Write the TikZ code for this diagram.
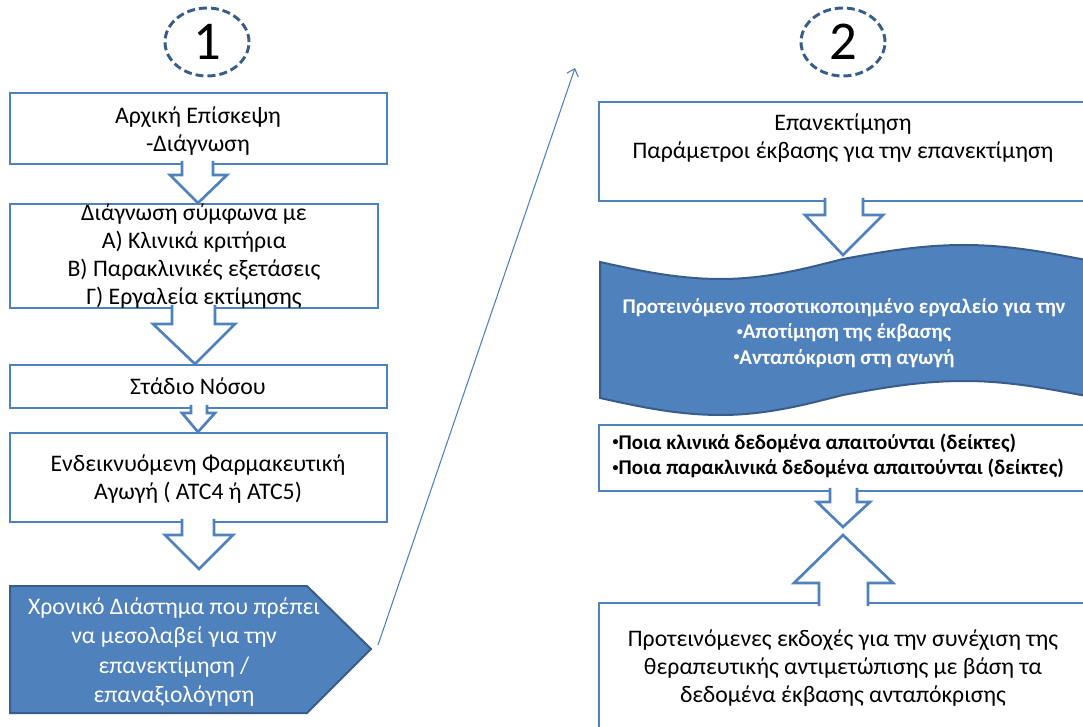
\documentclass[tikz,border=0pt]{standalone}
\usepackage{fontspec}
\setmainfont{Carlito}
\usepackage{tikz}
\usetikzlibrary{shapes.geometric,arrows.meta}

\definecolor{boxblue}{HTML}{4F81BD}
\definecolor{darkblue}{HTML}{385D8A}

\newcommand{\smallbullet}{\raisebox{0.18em}{\fontsize{9}{9}\selectfont•}}

\tikzset{
  box/.style={draw=boxblue, line width=2pt},
  blockarrow/.style={draw=boxblue, fill=white, line width=2pt, line join=miter},
  banner/.style={draw=darkblue, fill=boxblue, line width=1.5pt},
  label/.style={align=center, font=\fontsize{17.8}{21}\selectfont},
  whitelabel/.style={align=center, text=white, font=\fontsize{17.8}{21.9}\selectfont},
  boldlabel/.style={align=left, font=\fontsize{15.7}{19.2}\selectfont\bfseries},
  numcircle/.style={ellipse, draw=darkblue, dash pattern=on 6pt off 3pt, line width=2.2pt,
    minimum width=63pt, minimum height=51pt, inner sep=0pt, font=\fontsize{41}{41}\selectfont}
}

\begin{document}
\begin{tikzpicture}[x=0.75pt,y=-0.75pt]
\useasboundingbox (0,0) rectangle (1083,727);
\clip (0,0) rectangle (1083,727);

\draw[box] (10,93) rectangle (387,164);
\draw[box] (10,204) rectangle (378,308);
\draw[box] (10,365) rectangle (387,408);
\draw[box] (10,433) rectangle (387,522);

\draw[box] (599,102) rectangle (1092,201);
\draw[box] (599,425) rectangle (1092,491);
\draw[box] (599,603) rectangle (1092,740);

\filldraw[banner] (10,586) -- (307,586) -- (371,649) -- (307,713) -- (10,713) -- cycle;
\filldraw[banner] (600,262) sin (721,279) cos (843,259) sin (964,245) cos (1086,260)
  -- (1086,396) sin (964,381) cos (843,395) sin (721,415) cos (600,398) -- cycle;

\filldraw[blockarrow] (182,161) -- (182,175) -- (170,175) -- (198,203) -- (227,175) -- (213,175) -- (213,161);
\filldraw[blockarrow] (172,305) -- (172,324) -- (153,324) -- (195,364) -- (235,324) -- (215,324) -- (215,305);
\filldraw[blockarrow] (191,405) -- (191,413) -- (182,413) -- (198,432) -- (215,413) -- (207,413) -- (207,405);
\filldraw[blockarrow] (182,519) -- (182,535) -- (165,535) -- (199,569) -- (233,535) -- (214,535) -- (214,519);

\filldraw[blockarrow] (825,198) -- (825,215) -- (805,215) -- (843,255) -- (883,215) -- (863,215) -- (863,198);
\filldraw[blockarrow] (830,488) -- (830,502) -- (817,502) -- (843,527) -- (870,502) -- (857,502) -- (857,488);
\filldraw[blockarrow] (819,606) -- (819,583) -- (794,583) -- (843,535) -- (893,583) -- (868,583) -- (868,606);

\node[numcircle] (one) at (207,42) {1};
\node[numcircle] (two) at (843,42) {2};

\node[label] (visit) at (198,131) {Αρχική Επίσκεψη\\-Διάγνωση};
\node[label] (diagnosis) at (194,256) {Διάγνωση σύμφωνα με\\Α) Κλινικά κριτήρια\\Β) Παρακλινικές εξετάσεις\\Γ) Εργαλεία εκτίμησης};
\node[label] (stage) at (198,386) {Στάδιο Νόσου};
\node[label] (therapy) at (198,479) {Ενδεικνυόμενη Φαρμακευτική\\Αγωγή ( ATC4 ή ATC5)};
\node[whitelabel] (interval) at (174,652) {Χρονικό Διάστημα που πρέπει\\να μεσολαβεί για την\\επανεκτίμηση /\\επαναξιολόγηση};

\node[label] (reeval) at (843,138) {Επανεκτίμηση\\Παράμετροι έκβασης για την επανεκτίμηση};
\node[boldlabel, text=white, align=center] (tool) at (844,333) {Προτεινόμενο ποσοτικοποιημένο εργαλείο για την\\\smallbullet{}Αποτίμηση της έκβασης\\\smallbullet{}Ανταπόκριση στη αγωγή};
\node[boldlabel, anchor=west] (data) at (608,456) {\smallbullet{}Ποια κλινικά δεδομένα απαιτούνται (δείκτες)\\\smallbullet{}Ποια παρακλινικά δεδομένα απαιτούνται (δείκτες)};
\node[label] (options) at (843,668) {Προτεινόμενες εκδοχές για την συνέχιση της\\θεραπευτικής αντιμετώπισης με βάση τα\\δεδομένα έκβασης ανταπόκρισης};

\coordinate (waittip) at (378,645);
\coordinate (nextstep) at (575,68);
\draw[boxblue, line width=0.8pt, -{Straight Barb[length=5pt,width=9pt]}] (waittip) -- (nextstep);

\end{tikzpicture}
\end{document}
